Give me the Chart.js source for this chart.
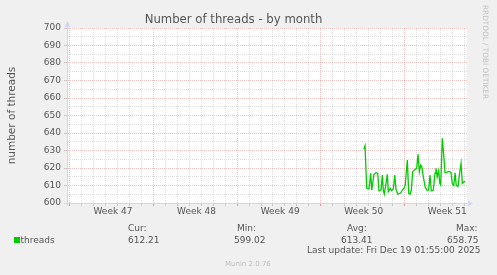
<!DOCTYPE html>
<html>
<head>
<meta charset="utf-8">
<title>Number of threads - by month</title>
<script src="https://cdn.jsdelivr.net/npm/chart.js@4.4.1/dist/chart.umd.min.js"></script>
<style>
  html, body { margin: 0; padding: 0; background: #f0f0f0; }
  canvas { display: block; }
</style>
</head>
<body>
<canvas id="threadsChart" width="497" height="275"></canvas>
<script>
// x = days since the left edge of the month window
const threadDays = [
  24.87, 24.96, 25.10, 25.29, 25.44, 25.52, 25.71, 25.88, 26.02, 26.13,
  26.30, 26.41, 26.49, 26.57, 26.72, 26.83, 26.91, 27.08, 27.19, 27.33,
  27.45, 27.55, 27.70, 27.95, 28.08, 28.22, 28.33, 28.50, 28.62, 28.73,
  28.84, 28.95, 29.09, 29.29, 29.40, 29.51, 29.62, 29.71, 29.82, 29.98,
  30.13, 30.29, 30.40, 30.51, 30.68, 30.82, 30.90, 31.01, 31.13, 31.22,
  31.30, 31.43, 31.55, 31.66, 31.80, 32.02, 32.16, 32.27, 32.39, 32.50,
  32.60, 32.75, 32.86, 33.00, 33.11, 33.25, 33.36
];
const threadValues = [
  630.7, 632.6, 608.4, 608.0, 617.0, 607.4, 616.4, 617.3, 617.0, 607.0,
  607.4, 616.0, 607.4, 605.1, 611.2, 616.4, 606.5, 608.4, 607.0, 608.0,
  616.0, 608.0, 605.0, 605.7, 607.4, 608.4, 610.3, 624.6, 605.5, 605.0,
  607.4, 617.9, 618.9, 619.8, 627.8, 617.9, 621.7, 620.8, 616.0, 609.5,
  607.4, 607.4, 616.0, 607.0, 607.4, 617.0, 619.8, 615.0, 618.5, 611.2,
  610.3, 637.0, 627.4, 617.3, 617.5, 618.0, 617.5, 611.0, 610.0, 617.3,
  610.0, 609.5, 616.0, 622.6, 611.2, 612.2, 612.0
];

const weekLabels = ["Week 47", "Week 48", "Week 49", "Week 50", "Week 51"];
const weekLabelDays = [3.85, 10.85, 17.85, 24.85, 31.85];
const weekStartDays = [0.25, 7.25, 14.25, 21.25, 28.25];

const statNames = ["Cur:", "Min:", "Avg:", "Max:"];
const statValues = ["612.21", "599.02", "613.41", "658.75"];
const lastUpdate = "Last update: Fri Dec 19 01:55:00 2025";

const FONT = "'DejaVu Sans', sans-serif";
const TEXT = "#555555";
const AXIS = "#cfd6f8";
const MGRID = "rgba(225, 110, 110, 0.42)";
const GRID = "rgba(160, 160, 160, 0.32)";

Chart.defaults.font.family = FONT;
Chart.defaults.color = TEXT;

const isWeekStart = (v) => weekStartDays.some((w) => Math.abs(w - v) < 0.01);

const munin = {
  id: "muninFrame",
  beforeDraw: (chart) => {
    const { ctx, chartArea: a } = chart;
    ctx.save();
    ctx.fillStyle = "#f0f0f0";
    ctx.fillRect(0, 0, chart.width, chart.height);
    ctx.fillStyle = "#ffffff";
    ctx.fillRect(a.left, a.top, a.right - a.left, a.bottom - a.top);
    ctx.restore();
  },
  afterDraw: (chart) => {
    const { ctx, chartArea: a } = chart;
    ctx.save();
    // axis lines + arrows
    ctx.strokeStyle = AXIS;
    ctx.fillStyle = AXIS;
    ctx.lineWidth = 1;
    ctx.beginPath();
    ctx.moveTo(a.left + 0.5, a.bottom + 3);
    ctx.lineTo(a.left + 0.5, a.top - 2);
    ctx.moveTo(a.left - 3, a.bottom + 0.5);
    ctx.lineTo(a.right + 2, a.bottom + 0.5);
    ctx.stroke();
    ctx.beginPath();
    ctx.moveTo(a.left - 2.5, a.top - 1);
    ctx.lineTo(a.left + 3.5, a.top - 1);
    ctx.lineTo(a.left + 0.5, a.top - 7);
    ctx.closePath();
    ctx.fill();
    ctx.beginPath();
    ctx.moveTo(a.right + 1, a.bottom - 2.5);
    ctx.lineTo(a.right + 1, a.bottom + 3.5);
    ctx.lineTo(a.right + 6, a.bottom + 0.5);
    ctx.closePath();
    ctx.fill();

    // watermark
    ctx.save();
    ctx.translate(482.7, 5);
    ctx.rotate(Math.PI / 2);
    ctx.font = "7.3px " + FONT;
    ctx.fillStyle = "#c4c4c4";
    ctx.textAlign = "left";
    ctx.textBaseline = "alphabetic";
    ctx.fillText("RRDTOOL / TOBI OETIKER", 0, 0);
    ctx.restore();

    // legend
    ctx.font = "9px " + FONT;
    ctx.textBaseline = "alphabetic";
    ctx.textAlign = "left";
    ctx.fillStyle = "#00cc00";
    ctx.fillRect(14, 237, 6, 6);
    ctx.fillStyle = TEXT;
    ctx.fillText("threads", 20.5, 243);
    const headX = [128, 237, 347, 456];
    const valX = [128, 234, 341, 447];
    statNames.forEach((name, i) => {
      ctx.fillText(name, headX[i], 230.5);
      ctx.fillText(statValues[i], valX[i], 243);
    });
    ctx.fillText(lastUpdate, 307, 253.3);
    ctx.font = "7px " + FONT;
    ctx.fillStyle = "#bdbdbd";
    ctx.fillText("Munin 2.0.76", 225, 266);
    ctx.restore();
  },
};

const dayTicks = [];
for (let d = 0.25; d < 33.5; d += 1) dayTicks.push({ value: d });
const yTicks = [];
for (let v = 600; v <= 700; v += 5) yTicks.push({ value: v });

const chart = new Chart(document.getElementById("threadsChart"), {
  type: "line",
  data: {
    datasets: [
      {
        label: "threads",
        data: threadDays.map((d, i) => ({ x: d, y: threadValues[i] })),
        borderColor: "#00cc00",
        borderWidth: 1.3,
        pointRadius: 0,
        fill: false,
        tension: 0,
        xAxisID: "x",
        yAxisID: "y",
      },
    ],
  },
  options: {
    responsive: false,
    animation: false,
    layout: { padding: { left: 0, right: 30, top: 0, bottom: 55 } },
    plugins: {
      legend: { display: false },
      tooltip: { enabled: false },
      title: {
        display: true,
        text: "Number of threads - by month",
        font: { size: 11.7, weight: "normal", family: FONT },
        color: TEXT,
        padding: { top: 13, bottom: 0.96 },
      },
    },
    scales: {
      x: {
        type: "linear",
        position: "bottom",
        min: 0,
        max: 33.5,
        afterBuildTicks: (s) => { s.ticks = dayTicks.slice(); },
        afterFit: (s) => { s.height = 3; },
        ticks: { display: false, autoSkip: false },
        grid: {
          color: (c) => (c.tick && isWeekStart(c.tick.value) ? MGRID : GRID),
          tickColor: (c) => (c.tick && isWeekStart(c.tick.value) ? "rgba(225,110,110,0.7)" : "#c8c8c8"),
          tickLength: 3,
        },
        border: { display: true, color: AXIS, dash: [1, 1] },
      },
      xLabels: {
        type: "linear",
        position: "bottom",
        min: 0,
        max: 33.5,
        afterBuildTicks: (s) => { s.ticks = weekLabelDays.map((v) => ({ value: v })); },
        afterFit: (s) => { s.height = 14; },
        ticks: {
          autoSkip: false,
          maxRotation: 0,
          padding: 0,
          font: { size: 9 },
          color: TEXT,
          callback: (v, i) => weekLabels[i],
        },
        grid: { display: false, drawTicks: false },
        border: { display: false },
      },
      y: {
        min: 600,
        max: 700,
        afterBuildTicks: (s) => { s.ticks = yTicks.slice(); },
        afterFit: (s) => { s.width = 67; },
        ticks: {
          autoSkip: false,
          padding: 3,
          font: { size: 9 },
          color: TEXT,
          callback: (v) => (v % 10 === 0 ? String(v) : ""),
        },
        grid: {
          color: (c) => (c.tick && c.tick.value % 10 === 0 ? MGRID : GRID),
          tickColor: (c) => (c.tick && c.tick.value % 10 === 0 ? "#c8c8c8" : "rgba(0,0,0,0)"),
          tickLength: 3,
        },
        border: { display: true, color: AXIS, dash: [1, 1] },
        title: {
          display: true,
          text: "number of threads",
          font: { size: 10.5 },
          color: TEXT,
          padding: { top: 6, bottom: 0 },
        },
      },
    },
  },
  plugins: [munin],
});
</script>
</body>
</html>
